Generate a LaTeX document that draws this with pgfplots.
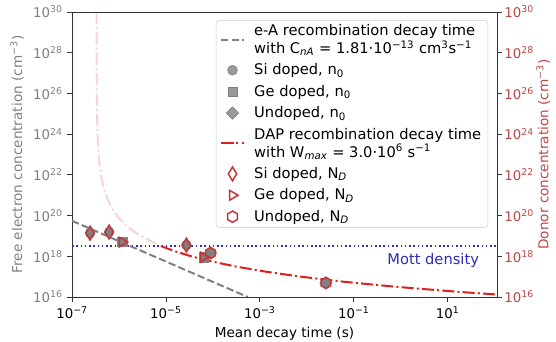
\documentclass[border=0pt]{standalone}
\usepackage{fontspec}
\setmainfont{DejaVu Sans}
\usepackage{pgfplots}
\pgfplotsset{compat=1.18}
\definecolor{tgray}{RGB}{128,128,128}
\definecolor{tred}{RGB}{190,70,70}
\definecolor{lred}{RGB}{225,30,30}
\definecolor{mred}{RGB}{200,50,50}
\definecolor{mott}{RGB}{45,45,175}
\definecolor{mgray}{RGB}{128,128,128}
\pgfdeclareplotmark{hexagon}{%
  \pgfpathmoveto{\pgfqpointpolar{90}{\pgfplotmarksize}}%
  \pgfpathlineto{\pgfqpointpolar{150}{\pgfplotmarksize}}%
  \pgfpathlineto{\pgfqpointpolar{210}{\pgfplotmarksize}}%
  \pgfpathlineto{\pgfqpointpolar{270}{\pgfplotmarksize}}%
  \pgfpathlineto{\pgfqpointpolar{330}{\pgfplotmarksize}}%
  \pgfpathlineto{\pgfqpointpolar{30}{\pgfplotmarksize}}%
  \pgfpathclose
  \pgfusepathqstroke
}
\begin{document}
\begin{tikzpicture}
\begin{axis}[
  at={(0,0)}, anchor=south west,
  scale only axis, width=318.75pt, height=213.75pt,
  xmode=log, ymode=log,
  xmin=1e-7, xmax=112, ymin=1e16, ymax=1e30,
  xtick={1e-7,1e-5,1e-3,1e-1,1e1},
  xticklabels={10\textsuperscript{−7},10\textsuperscript{−5},10\textsuperscript{−3},10\textsuperscript{−1},10\textsuperscript{1}},
  ytick={1e16,1e18,1e20,1e22,1e24,1e26,1e28,1e30},
  yticklabels={10\textsuperscript{16},10\textsuperscript{18},10\textsuperscript{20},10\textsuperscript{22},10\textsuperscript{24},10\textsuperscript{26},10\textsuperscript{28},10\textsuperscript{30}},
  xminorticks=false, yminorticks=false,
  tick align=outside, xtick pos=bottom, ytick pos=left,
  major tick length=3.5pt,
  tick style={black!80, line width=0.6pt},
  axis line style={black!80, line width=0.6pt},
  ticklabel style={font=\fontsize{10}{12}\selectfont},
  yticklabel style={text=tgray},
  xlabel={Mean decay time (s)},
  ylabel={Free electron concentration (cm\textsuperscript{−3})},
  label style={font=\fontsize{10.2}{12}\selectfont},
  ylabel style={text=tgray},
  legend cell align=left,
  legend style={at={(0.979,0.972)}, anchor=north east, draw=black!20,
    rounded corners=2pt, fill=white, fill opacity=0.8, text opacity=1,
    font=\fontsize{11}{13.5}\selectfont, cells={align=left}, row sep=2.2pt,
    column sep=5pt, inner xsep=3pt, inner ysep=1pt},
]
% DAP pink (above Mott density)
\addplot[lred, opacity=0.2, line width=1.4pt, dash pattern=on 9pt off 2.4pt on 1.5pt off 2.4pt, forget plot] coordinates {
(3.3349e-7,1e30) (3.3405e-7,1e28) (3.3668e-7,1e26) (3.4059e-7,1e25)
(3.4917e-7,1e24) (3.6839e-7,1e23) (3.8604e-7,3.1623e22) (4.1347e-7,1e22)
(4.5734e-7,3.1623e21) (5.3023e-7,1e21) (6.5887e-7,3.1623e20) (7.609e-7,1.7783e20)
(9.0609e-7,1e20) (1.1194e-6,5.6234e19) (1.4466e-6,3.1623e19) (1.973e-6,1.7783e19)
(2.8745e-6,1e19) (7.8747e-6,3.1623e18)
};
% Mott density
\addplot[mott, line width=1.2pt, dash pattern=on 1.2pt off 2pt, forget plot] coordinates {(1e-7,3.16e18) (112,3.16e18)};
% e-A recombination
\addplot[tgray, line width=1.5pt, dash pattern=on 5.5pt off 2.4pt] coordinates {(1e-7,5.52e19) (5.52e-4,1e16)};
\addlegendentry{e-A recombination decay time\\with C\textsubscript{\textit{nA}} = 1.81·10\textsuperscript{−13} cm\textsuperscript{3}s\textsuperscript{−1}}
% n0 markers
\addplot[only marks, mark=*, mark size=3.7pt, mark options={fill=mgray, draw=mgray}] coordinates {
(2.43e-7,1.38e19) (6.18e-7,1.55e19) (2.73e-5,3.55e18)};
\addlegendentry{Si doped, n\textsubscript{0}}
\addplot[only marks, mark=square*, mark size=3.5pt, mark options={fill=mgray, draw=mgray}] coordinates {
(1.17e-6,5.0e18) (6.3e-5,9.1e17)};
\addlegendentry{Ge doped, n\textsubscript{0}}
\addplot[only marks, mark=square*, mark size=3.3pt, mark options={fill=mgray, draw=mgray, rotate=45}] coordinates {
(8.9e-5,1.45e18) (2.55e-2,4.9e16)};
\addlegendentry{Undoped, n\textsubscript{0}}
% DAP red
\addplot[lred, line width=1.5pt, dash pattern=on 9pt off 2.4pt on 1.5pt off 2.4pt] coordinates {
(7.8747e-6,3.1623e18) (1.537e-5,1.7783e18) (3.4570e-5,1e18) (9.230e-5,5.6234e17)
(3.0317e-4,3.1623e17) (1.281e-3,1.7783e17) (7.3421e-3,1e17) (0.060865,5.6234e16)
(0.78967,3.1623e16) (17.62,1.7783e16) (154.3,1.2589e16)
};
\addlegendentry{DAP recombination decay time\\with W\textsubscript{\textit{max}} = 3.0·10\textsuperscript{6} s\textsuperscript{−1}}
% N_D markers
\addplot[only marks, mark=diamond, mark size=5.2pt, mark options={draw=mred, line width=1.1pt, xscale=0.8}] coordinates {
(2.43e-7,1.38e19) (6.18e-7,1.55e19) (2.73e-5,3.55e18)};
\addlegendentry{Si doped, N\textsubscript{\textit{D}}}
\addplot[only marks, mark=triangle, mark size=4.2pt, mark options={draw=mred, line width=1.1pt, rotate=-90}] coordinates {
(1.17e-6,5.0e18) (6.3e-5,9.1e17)};
\addlegendentry{Ge doped, N\textsubscript{\textit{D}}}
\addplot[only marks, mark=hexagon, mark size=4.2pt, mark options={draw=mred, line width=1.1pt}] coordinates {
(8.9e-5,1.45e18) (2.55e-2,4.9e16)};
\addlegendentry{Undoped, N\textsubscript{\textit{D}}}
\node[text=mott, font=\fontsize{11}{13}\selectfont] at (axis cs:4.9,5.9e17) {Mott density};
\end{axis}
\begin{axis}[
  at={(0,0)}, anchor=south west,
  scale only axis, width=318.75pt, height=213.75pt,
  xmode=log, ymode=log,
  xmin=1e-7, xmax=112, ymin=1e16, ymax=1e30,
  axis x line=none, axis y line*=right,
  ytick={1e16,1e18,1e20,1e22,1e24,1e26,1e28,1e30},
  yticklabels={10\textsuperscript{16},10\textsuperscript{18},10\textsuperscript{20},10\textsuperscript{22},10\textsuperscript{24},10\textsuperscript{26},10\textsuperscript{28},10\textsuperscript{30}},
  yminorticks=false,
  tick align=outside, major tick length=3.5pt,
  tick style={black!80, line width=0.6pt},
  axis line style={black!80, line width=0.6pt},
  ticklabel style={font=\fontsize{10}{12}\selectfont},
  yticklabel style={text=tred, xshift=-1.5pt},
  ylabel={Donor concentration (cm\textsuperscript{−3})},
  label style={font=\fontsize{10.2}{12}\selectfont},
  ylabel style={text=tred, yshift=5pt},
]
\addplot[draw=none] coordinates {(1,1e20)};
\end{axis}
\pgfresetboundingbox
\path[use as bounding box] (-54pt,-33.75pt) rectangle (363pt,222.75pt);
\end{tikzpicture}
\end{document}
